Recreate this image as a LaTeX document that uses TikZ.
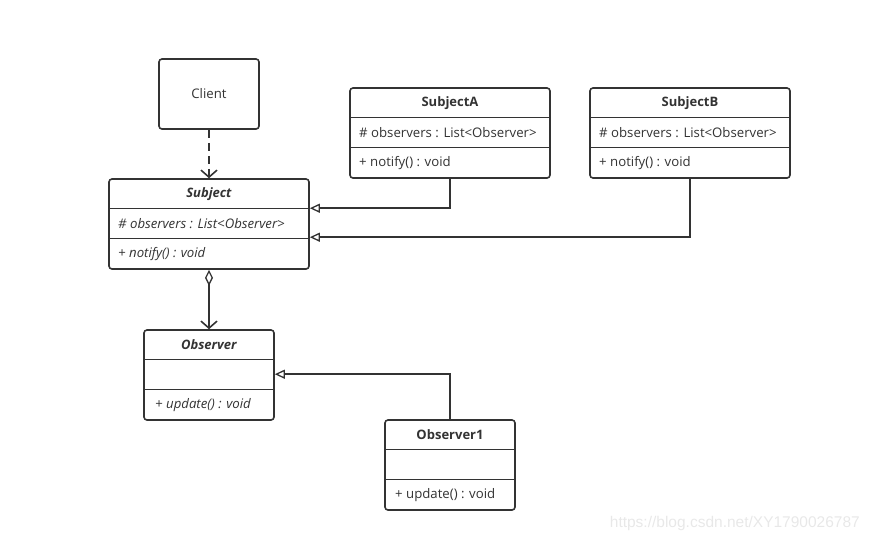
\documentclass[tikz,border=0pt]{standalone}
\usepackage{fontspec}
\setmainfont{Open Sans}
\newfontfamily\wmfont{Liberation Sans}
\usetikzlibrary{arrows.meta,calc}
\definecolor{linec}{HTML}{333333}
\definecolor{textc}{HTML}{333333}
\definecolor{wmc}{HTML}{E8E8E8}
\tikzset{
  umlbox/.style={draw=linec, line width=1.6pt, rounded corners=3pt, fill=white, inner sep=0pt},
  bigbox/.style={umlbox, minimum width=200pt, minimum height=90pt},
  smallbox/.style={umlbox, minimum width=130pt, minimum height=90pt},
  sep/.style={draw=linec, line width=1.3pt},
  ttl/.style={font=\fontsize{13}{15}\selectfont\bfseries, text=textc, inner sep=0pt},
  fld/.style={font=\fontsize{13.2}{15}\selectfont, text=textc, anchor=west, inner sep=0pt},
  conn/.style={draw=linec, line width=1.6pt},
  gen/.style={conn, -{Triangle[open, length=10pt, width=9pt, line width=1.3pt]}},
  barb/.style={-{Straight Barb[length=7pt, width=16pt, line width=1.6pt]}}
}
\begin{document}
\begin{tikzpicture}[x=1pt, y=-1pt]
\useasboundingbox (0,0) rectangle (870,542);
% Client
\node[umlbox, minimum width=100pt, minimum height=70pt] (client) at (209,94) {};
\node[font=\fontsize{13.2}{15}\selectfont, text=textc, inner sep=0pt] (clientT) at (209,94) {Client};
% Subject
\node[bigbox] (subj) at (209,224) {};
\draw[sep] ($(subj.north west)+(0,30)$) -- ++(200,0);
\draw[sep] ($(subj.north west)+(0,60)$) -- ++(200,0);
\node[ttl] (subjT) at (209,194) {\textit{Subject}};
\node[fld] (subjF) at (118,224) {\textit{\# observers : List<Observer>}};
\node[fld] (subjM) at (118,254) {\textit{+ notify() : void}};
% SubjectA
\node[bigbox] (sa) at (450,133) {};
\draw[sep] ($(sa.north west)+(0,30)$) -- ++(200,0);
\draw[sep] ($(sa.north west)+(0,60)$) -- ++(200,0);
\node[ttl] (saT) at (450,103) {SubjectA};
\node[fld] (saF) at (359,133) {\# observers : List<Observer>};
\node[fld] (saM) at (359,163) {+ notify() : void};
% SubjectB
\node[bigbox] (sb) at (690,133) {};
\draw[sep] ($(sb.north west)+(0,30)$) -- ++(200,0);
\draw[sep] ($(sb.north west)+(0,60)$) -- ++(200,0);
\node[ttl] (sbT) at (690,103) {SubjectB};
\node[fld] (sbF) at (599,133) {\# observers : List<Observer>};
\node[fld] (sbM) at (599,163) {+ notify() : void};
% Observer
\node[smallbox] (obs) at (209,375) {};
\draw[sep] ($(obs.north west)+(0,30)$) -- ++(130,0);
\draw[sep] ($(obs.north west)+(0,60)$) -- ++(130,0);
\node[ttl] (obsT) at (209,345) {\textit{Observer}};
\node[fld] (obsM) at (155,405) {\textit{+ update() : void}};
% Observer1
\node[smallbox] (o1) at (450,465) {};
\draw[sep] ($(o1.north west)+(0,30)$) -- ++(130,0);
\draw[sep] ($(o1.north west)+(0,60)$) -- ++(130,0);
\node[ttl] (o1T) at (450,435) {Observer1};
\node[fld] (o1M) at (395,495) {+ update() : void};
% connectors
\draw[conn, barb, dash pattern=on 8pt off 5pt] (client) -- (subj);
\draw[gen] (sa.south) |- ($(subj.north east)+(0,30)$);
\draw[gen] (sb.south) |- ($(subj.north east)+(0,59)$);
\draw[conn, {Diamond[open, length=16pt, width=8pt, line width=1.3pt]}-{Straight Barb[length=7pt, width=16pt, line width=1.6pt]}] (subj) -- (obs);
\draw[gen] (o1.north) |- ($(obs.north east)+(0,45)$);
% watermark
\node[font=\wmfont\fontsize{15.5}{17}\selectfont, text=wmc, anchor=east, inner sep=0pt] (wm) at (860,523) {https://blog.csdn.net/XY1790026787};
\end{tikzpicture}
\end{document}
